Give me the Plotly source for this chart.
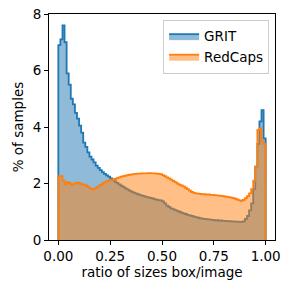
import plotly.graph_objects as go

bin_edges = [round(i * 0.01, 2) for i in range(101)]

grit = [6.9, 7.1, 7.6, 7.0, 5.9, 5.5, 5.0, 4.8, 4.5, 4.3,
        4.05, 3.8, 3.45, 3.3, 3.1, 2.95, 2.85, 2.75, 2.63, 2.55,
        2.47, 2.4, 2.34, 2.29, 2.24, 2.18, 2.12, 2.07, 2.02, 1.97,
        1.92, 1.88, 1.83, 1.79, 1.75, 1.71, 1.68, 1.65, 1.62, 1.6,
        1.57, 1.55, 1.53, 1.51, 1.49, 1.47, 1.45, 1.43, 1.41, 1.4,
        1.37, 1.3, 1.22, 1.17, 1.12, 1.09, 1.06, 1.03, 1.0, 0.97,
        0.94, 0.92, 0.89, 0.87, 0.85, 0.83, 0.81, 0.79, 0.77, 0.76,
        0.75, 0.74, 0.73, 0.72, 0.71, 0.7, 0.7, 0.69, 0.69, 0.68,
        0.68, 0.67, 0.67, 0.66, 0.66, 0.65, 0.65, 0.64, 0.64, 0.66,
        0.75, 0.85, 1.05, 1.3, 1.8, 2.6, 3.4, 4.2, 4.6, 3.6]

redcaps = [2.26, 2.26, 2.1, 1.97, 2.05, 2.02, 1.95, 1.98, 2.02, 2.03,
           2.0, 1.98, 1.96, 1.93, 1.88, 1.83, 1.8, 1.82, 1.86, 1.9,
           1.95, 2.0, 2.04, 2.08, 2.1, 2.12, 2.14, 2.16, 2.19, 2.22,
           2.24, 2.26, 2.28, 2.3, 2.31, 2.32, 2.33, 2.34, 2.35, 2.35,
           2.36, 2.36, 2.36, 2.37, 2.37, 2.36, 2.36, 2.35, 2.34, 2.33,
           2.3, 2.26, 2.22, 2.18, 2.14, 2.09, 2.05, 2.0, 1.96, 1.93,
           1.9, 1.85, 1.8, 1.75, 1.7, 1.67, 1.65, 1.64, 1.63, 1.62,
           1.62, 1.61, 1.61, 1.6, 1.6, 1.59, 1.58, 1.57, 1.56, 1.55,
           1.54, 1.53, 1.52, 1.5, 1.48, 1.46, 1.43, 1.4, 1.39, 1.42,
           1.48, 1.55, 1.65, 1.8, 2.1, 2.6, 3.9, 3.95, 3.5, 3.4]

series = [("GRIT", grit, "#1f77b4", "rgba(31,119,180,0.5)"),
          ("RedCaps", redcaps, "#ff7f0e", "rgba(255,127,14,0.5)")]

tick_vals = [0, 0.25, 0.5, 0.75, 1.0]
tick_text = ["0.00", "0.25", "0.50", "0.75", "1.00"]

fig = go.Figure()
for name, vals, col, fcol in series:
    xs = [bin_edges[0]] + bin_edges[:-1] + [bin_edges[-1], bin_edges[-1]]
    ys = [0] + vals + [vals[-1], 0]
    fig.add_trace(go.Scatter(x=xs, y=ys, name=name, mode="lines",
                             line=dict(color=col, width=1.8, shape="hv"),
                             fill="tozeroy", fillcolor=fcol))

font = dict(family="DejaVu Sans", size=13.5, color="black")
fig.update_layout(
    width=286, height=284,
    margin=dict(l=49, r=6, t=10, b=44),
    paper_bgcolor="white", plot_bgcolor="white",
    font=font,
    showlegend=True,
    legend=dict(x=0.974, y=0.974, xanchor="right", yanchor="top",
                bgcolor="rgba(255,255,255,0.8)", bordercolor="#cccccc",
                borderwidth=1, font=font, tracegroupgap=0),
)
fig.update_xaxes(range=[-0.045, 1.045], tickvals=tick_vals, ticktext=tick_text,
                 showgrid=False, zeroline=False, showline=True, mirror=True,
                 linecolor="black", linewidth=1, ticks="outside", ticklen=4,
                 tickcolor="black",
                 title=dict(text="ratio of sizes box/image", standoff=3, font=font))
fig.update_yaxes(range=[0, 8], tickvals=[0, 2, 4, 6, 8],
                 showgrid=False, zeroline=False, showline=True, mirror=True,
                 linecolor="black", linewidth=1, ticks="outside", ticklen=4,
                 tickcolor="black",
                 title=dict(text="% of samples", standoff=5, font=font))

fig.write_html("out.html", config={"displayModeBar": False},
               post_script="document.body.style.margin='0';document.body.style.overflow='hidden';")
